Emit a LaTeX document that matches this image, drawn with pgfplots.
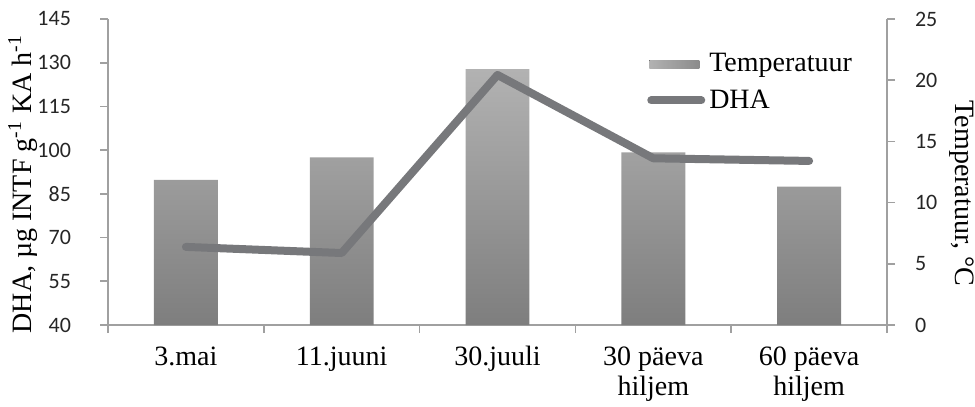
\documentclass[border=0pt]{standalone}
\usepackage{pgfplots}
\pgfplotsset{compat=1.18}
\usetikzlibrary{calc}
\usepackage{fontspec}
\setmainfont{Liberation Serif}
\newfontfamily\calibri{Carlito}
\definecolor{axgray}{HTML}{A0A0A0}
\definecolor{linegray}{HTML}{77787B}
\definecolor{bartop}{HTML}{B2B2B2}
\definecolor{barbot}{HTML}{7E7E7E}
\begin{document}
\begin{tikzpicture}
\pgfplotsset{
  common/.style={
    scale only axis, width=389.5pt, height=153pt,
    xmin=-0.5, xmax=4.5,
    axis line style={axgray, line width=0.8pt},
    tick style={axgray, line width=0.8pt},
    tick align=outside,
    major tick length=4pt,
    /pgf/number format/assume math mode=true,
    ticklabel style={font=\calibri\fontsize{11}{13}\selectfont, text=black!85},
  }
}
\begin{axis}[common, name=ax,
  axis x line*=bottom, axis y line*=right,
  ymin=0, ymax=25, ytick={0,5,...,25},
  yticklabel style={xshift=6.5pt},
  xtick={-0.5,0.5,1.5,2.5,3.5,4.5}, xticklabels={},
  extra x ticks={0,1,2,3,4},
  extra x tick labels={\strut 3.mai,\strut 11.juuni,\strut 30.juuli,{\strut 30 päeva\\\strut hiljem},{\strut 60 päeva\\\strut hiljem}},
  extra x tick style={tick style={draw=none},
    xticklabel style={align=center, anchor=north, font=\fontsize{14}{15}\selectfont, text=black,
      yshift=-2pt}},
  ylabel={Temperatuur, °C},
  ylabel style={font=\fontsize{14}{16}\selectfont, rotate=180, anchor=center,
    at={($(rel axis cs:1,0.43)+(37.5pt,0pt)$)}},
]
\addplot[ybar, bar width=0.41, draw=none, top color=bartop, bottom color=barbot]
  coordinates {(0,11.85) (1,13.7) (2,20.9) (3,14.1) (4,11.3)};
\end{axis}
\begin{axis}[common,
  axis x line=none, axis y line*=left,
  ymin=40, ymax=145, ytick={40,55,...,145},
  yticklabel style={xshift=-11pt},
  ylabel={DHA, µg INTF g\textsuperscript{-1} KA h\textsuperscript{-1}},
  ylabel style={font=\fontsize{14}{16}\selectfont, anchor=center,
    at={($(rel axis cs:0,0.46)+(-42.5pt,0pt)$)}},
  legend style={draw=none, fill=none, at={(0.684,0.915)}, anchor=north west,
    font=\fontsize{14}{16}\selectfont, row sep=3.5pt,
    legend cell align=left},
]
\addlegendimage{legend image code/.code={\fill[draw=none, left color=bartop, right color=barbot!90] (0pt,-2pt) rectangle (25pt,2pt);}}
\addlegendentry{Temperatuur}
\addplot[linegray, line width=4pt, line cap=round, line join=round,
  legend image code/.code={\draw[linegray, line width=4pt, line cap=round] (1pt,0pt) -- (26pt,0pt);}]
  coordinates {(0,66.8) (1,64.7) (2,125.8) (3,97.2) (4,96.3)};
\addlegendentry{DHA}
\end{axis}
\pgfresetboundingbox
\path[use as bounding box] ($(ax.south west)+(-54pt,-40.5pt)$) rectangle ($(ax.north east)+(44pt,9.5pt)$);
\end{tikzpicture}
\end{document}
